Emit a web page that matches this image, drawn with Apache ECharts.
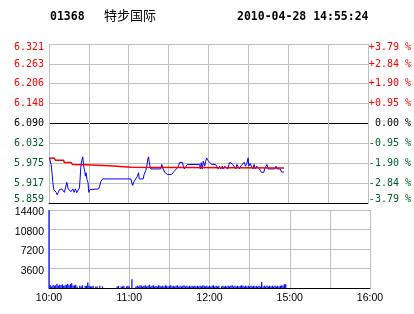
<!DOCTYPE html>
<html><head><meta charset="utf-8">
<script src="https://cdn.jsdelivr.net/npm/echarts@6/dist/echarts.min.js"></script>
<style>html,body{margin:0;padding:0;background:#fff}#c{width:414px;height:314px}</style>
</head><body><div id="c"></div>
<script>
const stockCode = '01368';
const stockName = '特步国际';
const stamp = '2010-04-28 14:55:24';
const prevClose = 6.090;
const priceTicks = [5.859, 5.917, 5.975, 6.032, 6.090, 6.148, 6.206, 6.263, 6.321];
const pctTicks = [-3.79, -2.84, -1.90, -0.95, 0, 0.95, 1.90, 2.84, 3.79];
const volMax = 14400;
const volStep = 3600;
const timeTicks = [0, 60, 120, 180, 240];           // trading-minute index
const timeLabels = ['10:00', '11:00', '12:00', '15:00', '16:00'];

// price line (trading minute index since 10:00, price)
const priceMinutes = [0.4,1.6,2.4,2.9,3.6,4.4,5.4,6.1,6.9,7.9,8.6,9.6,10.9,11.6,12.4,13.4,14.4,15.4,16.6,17.9,18.9,19.9,20.9,22.1,22.9,23.4,23.9,24.4,25.4,26.1,26.9,27.4,27.9,28.6,29.4,29.9,30.9,31.9,37.4,38.1,39.1,40.4,61.6,62.9,64.1,66.6,67.4,67.9,70.9,71.6,72.9,73.6,74.4,74.9,75.4,75.9,76.6,84.1,84.9,85.9,87.1,89.1,92.4,94.1,95.9,97.4,98.4,100.4,101.1,101.9,102.9,104.1,113.4,113.9,114.6,115.4,116.1,117.2,117.9,118.7,119.4,120.4,121.1,122.4,125.4,126.6,127.4,128.4,129.4,130.4,131.1,132.2,133.7,134.6,135.4,136.1,137.4,138.4,139.9,140.6,141.4,142.9,143.4,144.2,145.4,146.9,147.9,148.9,149.9,150.4,151.4,152.4,153.4,154.4,155.4,156.4,157.4,158.4,159.2,159.9,161.6,162.4,164.1,164.9,169.9,170.9,171.6,174.2,174.9,176.9];
const prices = [5.990,5.971,5.942,5.918,5.898,5.893,5.890,5.883,5.889,5.898,5.893,5.900,5.900,5.890,5.903,5.919,5.900,5.898,5.892,5.900,5.890,5.900,5.889,5.893,5.903,5.929,5.961,5.977,5.993,5.966,5.951,5.937,5.947,5.927,5.918,5.890,5.898,5.900,5.900,5.908,5.922,5.929,5.929,5.910,5.922,5.937,5.947,5.929,5.929,5.942,5.954,5.966,5.987,5.993,5.980,5.968,5.958,5.958,5.971,5.958,5.948,5.942,5.942,5.951,5.958,5.966,5.977,5.977,5.966,5.958,5.958,5.971,5.971,5.958,5.976,5.958,5.980,5.966,5.980,5.990,5.983,5.987,5.977,5.971,5.971,5.966,5.958,5.966,5.958,5.966,5.958,5.966,5.966,5.958,5.971,5.977,5.974,5.971,5.971,5.958,5.971,5.971,5.958,5.966,5.971,5.977,5.966,5.974,5.990,5.966,5.974,5.966,5.958,5.971,5.958,5.966,5.971,5.958,5.958,5.948,5.948,5.958,5.971,5.958,5.958,5.966,5.958,5.958,5.949,5.949];

// average price line
const avgMinutes = [0.4,4.1,4.9,10.9,11.6,16.6,17.6,27.9,28.9,45.4,46.6,61.6,62.6,176.9];
const avgPrices = [5.990,5.989,5.983,5.983,5.977,5.977,5.971,5.970,5.968,5.967,5.964,5.963,5.961,5.961];

// volume per trading minute from 10:00
const volumes = [
14400,500,300,600,400,500,800,400,600,500,
700,400,500,600,800,500,700,900,400,500,
600,300,0,400,300,500,0,400,400,1000,
400,300,300,400,0,300,300,0,400,0,
300,0,0,0,0,0,0,0,0,0,
0,300,400,0,300,300,400,0,300,400,
300,0,1600,0,0,300,400,300,500,400,
300,400,500,300,400,600,300,400,500,300,
400,300,500,400,300,400,300,500,400,300,
400,500,300,400,300,400,500,300,400,300,
400,500,300,400,300,400,300,400,300,400,
300,400,300,400,300,500,400,300,400,300,
400,300,400,500,300,400,300,400,0,300,
400,300,400,300,400,300,400,500,300,400,
300,400,300,400,500,400,300,400,300,400,
300,400,300,400,300,400,300,400,300,1100,
300,400,300,400,300,400,300,400,300,400,
300,400,300,400,500,400,700,700];

const RED = '#ff0000', GREEN = '#00602a', GRID = '#c0c0c0';
const mono = '"DejaVu Sans Mono", "Liberation Mono", monospace';
const sans = '"Liberation Sans", Arial, sans-serif';

const chart = echarts.init(document.getElementById('c'), null, {renderer: 'canvas'});
const priceData = priceMinutes.map((m, i) => [m, prices[i]]);
const avgData = avgMinutes.map((m, i) => [m, avgPrices[i]]);
const volData = [];
volumes.forEach((v, i) => { if (v > 0) volData.push([i, v]); });

const splitColors = priceTicks.map(t => (t === prevClose ? '#000' : GRID));
const edgeRich = {
  t: {padding: [7, 0, 0, 0]},
  b: {padding: [0, 0, 7, 0]},
  m: {padding: [0, 0, 0, 0]}
};
function edgeWrap(text, idx, n) {
  if (idx === n - 1) return '{t|' + text + '}';
  if (idx === 0) return '{b|' + text + '}';
  return '{m|' + text + '}';
}
function volWrap(text) { return '{v|' + text + '}'; }

chart.setOption({
  animation: false,
  backgroundColor: '#fff',
  graphic: [
    {type: 'text', x: 50, y: 17, style: {text: stockCode, font: 'bold 11.5px ' + mono, fill: '#000', verticalAlign: 'middle'}},
    {type: 'text', x: 104, y: 15, style: {text: stockName, font: '13px "Noto Sans CJK SC"', fill: '#000', verticalAlign: 'middle'}},
    {type: 'text', x: 237, y: 17, style: {text: stamp, font: 'bold 11.5px ' + mono, fill: '#000', verticalAlign: 'middle'}}
  ],
  grid: [
    {left: 49, top: 44, width: 321, height: 159},
    {left: 49, top: 210, width: 321, height: 78}
  ],
  xAxis: [
    {gridIndex: 0, type: 'value', min: 0, max: 240, interval: 30,
     axisLine: {show: true, onZero: false, lineStyle: {color: '#000', width: 1}},
     axisTick: {show: false}, axisLabel: {show: false},
     splitLine: {show: true, lineStyle: {color: GRID}}},
    {gridIndex: 1, type: 'value', min: 0, max: 240, interval: 30,
     axisLine: {show: true, onZero: false, lineStyle: {color: '#000', width: 1}},
     axisTick: {show: false},
     axisLabel: {customValues: timeTicks, margin: 5, color: '#000', fontFamily: sans, fontSize: 10.5,
                 formatter: v => timeLabels[timeTicks.indexOf(v)] || ''},
     splitLine: {show: true, lineStyle: {color: GRID}}}
  ],
  yAxis: [
    {gridIndex: 0, type: 'value', min: priceTicks[0], max: priceTicks[priceTicks.length - 1],
     axisLine: {show: false}, axisTick: {show: false, customValues: priceTicks},
     axisLabel: {customValues: priceTicks, margin: 5, fontFamily: mono, fontSize: 10,
                 formatter: v => edgeWrap(v.toFixed(3), priceTicks.indexOf(v), priceTicks.length),
                 rich: edgeRich,
                 color: v => (v > prevClose + 1e-9 ? RED : (v < prevClose - 1e-9 ? GREEN : '#000'))},
     splitLine: {show: true, lineStyle: {color: splitColors}}},
    {gridIndex: 0, type: 'value', position: 'right', min: pctTicks[0], max: pctTicks[pctTicks.length - 1],
     axisLine: {show: false}, axisTick: {show: false, customValues: pctTicks},
     axisLabel: {customValues: pctTicks, margin: 1, fontFamily: mono, fontSize: 10, align: 'left',
                 formatter: v => edgeWrap((v > 0 ? '+' + v.toFixed(2) : (v < 0 ? v.toFixed(2) : ' ' + v.toFixed(2))) + ' %',
                                          pctTicks.indexOf(v), pctTicks.length),
                 rich: edgeRich,
                 color: v => (v > 0 ? RED : (v < 0 ? GREEN : '#000'))},
     splitLine: {show: false}},
    {gridIndex: 1, type: 'value', min: 0, max: volMax, interval: volStep,
     axisLine: {show: false}, axisTick: {show: false},
     axisLabel: {margin: 5, color: '#000', fontFamily: sans, fontSize: 10.5,
                 rich: {v: {padding: [5, 0, 0, 0]}},
                 formatter: v => (v === 0 ? '' : volWrap(String(v)))},
     splitLine: {show: true, lineStyle: {color: GRID}}}
  ],
  series: [
    {type: 'line', xAxisIndex: 0, yAxisIndex: 0, data: priceData, showSymbol: false,
     lineStyle: {color: '#0000ff', width: 1}, itemStyle: {color: '#0000ff'}},
    {type: 'line', xAxisIndex: 0, yAxisIndex: 0, data: avgData, showSymbol: false,
     lineStyle: {color: RED, width: 1.5}, itemStyle: {color: RED}},
    {type: 'bar', xAxisIndex: 1, yAxisIndex: 2, data: volData, barWidth: 1.2,
     itemStyle: {color: '#0000ff'}}
  ]
});
</script>
</body></html>
